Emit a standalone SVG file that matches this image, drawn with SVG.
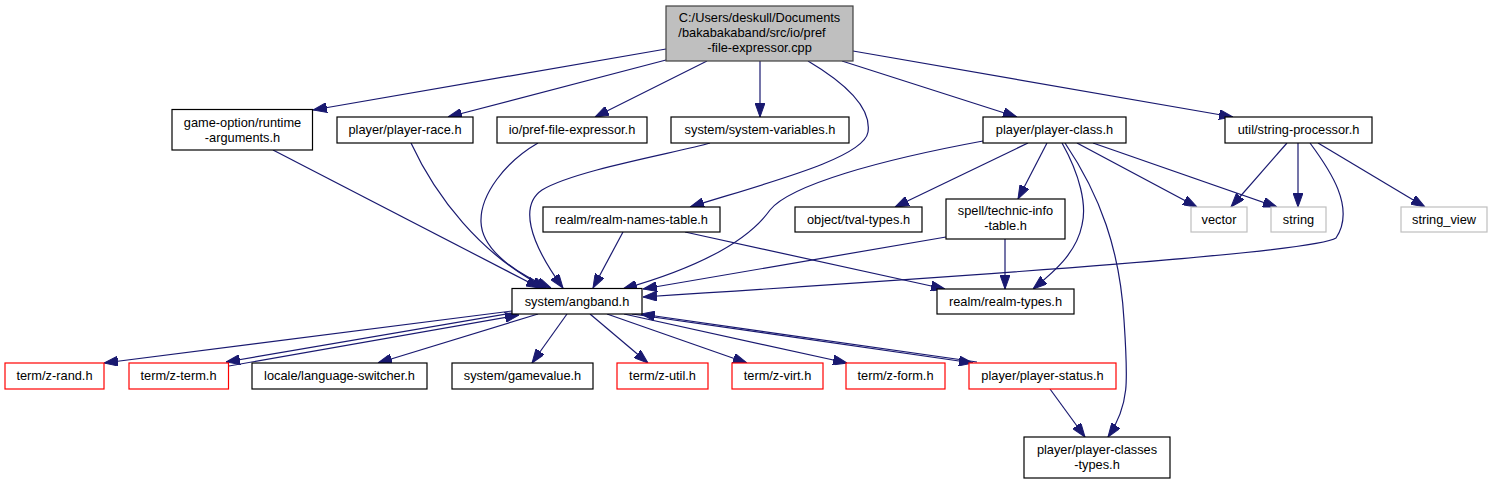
<svg xmlns="http://www.w3.org/2000/svg" width="1492" height="484" viewBox="0 0 1492 484">
<defs>
<marker id="ah" viewBox="0 0 14 10" refX="14" refY="5" markerWidth="14" markerHeight="10" markerUnits="userSpaceOnUse" orient="auto">
<path d="M0,0 L14,5 L0,10 z" fill="#191970" stroke="#191970" stroke-width="1"/>
</marker>
<style>
.n rect{fill:#fff;stroke:#000;stroke-width:1.2}
.root rect{fill:#bfbfbf;stroke:#404040}
.red rect{stroke:#ff0000}
.gray rect{stroke:#bfbfbf}
text{font-family:"Liberation Sans",Arial,sans-serif;font-size:12.8px;fill:#000;text-anchor:middle}
#edges path{fill:none;stroke:#191970;stroke-width:1.2;marker-end:url(#ah)}
</style>
</defs>
<rect width="1492" height="484" fill="#fff"/>
<g id="edges">
<path d="M666,49 L313,110"/>
<path d="M666,60 L448,117"/>
<path d="M707,61 L595,117"/>
<path d="M760,61 L760,117"/>
<path d="M808,61 C840,80 872,105 868,132 C864,158 770,182 690,207"/>
<path d="M842,61 L1017,117"/>
<path d="M853,51 L1233,117"/>
<path d="M273,150 L540,288"/>
<path d="M411,143 C435,195 480,255 546,288"/>
<path d="M538,143 C505,162 480,195 481,222 C482,252 520,275 551,288"/>
<path d="M710,143 C680,152 575,170 542,190 C520,205 528,240 563,288"/>
<path d="M623,232 L593,288"/>
<path d="M983,141 C880,160 790,185 770,210 C745,245 690,270 623,289"/>
<path d="M1028,143 L895,207"/>
<path d="M1047,143 L1018,199"/>
<path d="M1062,143 C1080,175 1087,205 1082,225 C1076,255 1050,275 1033,289"/>
<path d="M1065,143 C1100,195 1120,250 1124,320 C1128,380 1130,405 1108,437"/>
<path d="M1077,143 L1197,207"/>
<path d="M1093,143 L1277,207"/>
<path d="M1287,143 L1231,207"/>
<path d="M1298,143 L1298,207"/>
<path d="M1318,143 L1425,207"/>
<path d="M1310,143 C1330,170 1356,208 1336,238 C1316,252 1000,274 643,297"/>
<path d="M946,237 L643,289"/>
<path d="M1005,239 L1005,289"/>
<path d="M685,232 L945,289"/>
<path d="M512,311 L104,363"/>
<path d="M512,313 L226,362"/>
<path d="M229,366 L519,315"/>
<path d="M538,314 L378,363"/>
<path d="M567,314 L532,363"/>
<path d="M590,314 L648,363"/>
<path d="M607,314 L747,363"/>
<path d="M624,314 L847,363"/>
<path d="M632,314 L973,363"/>
<path d="M977,362 L641,314"/>
<path d="M1050,389 L1085,437"/>
</g>
<g id="root" class="n root"><rect x="666" y="6" width="187" height="55"/><text x="759.5" y="21.5">C:/Users/deskull/Documents</text><text x="752" y="36.5">/bakabakaband/src/io/pref</text><text x="759.5" y="51.5">-file-expressor.cpp</text></g>
<g id="runtime-arguments" class="n"><rect x="172" y="109.5" width="140.5" height="40.5"/><text x="242.5" y="126.5">game-option/runtime</text><text x="242.5" y="141.5">-arguments.h</text></g>
<g id="player-race" class="n"><rect x="337" y="117" width="136" height="26"/><text x="405" y="134">player/player-race.h</text></g>
<g id="pref-file-expressor" class="n"><rect x="497" y="117" width="150" height="26"/><text x="572" y="134">io/pref-file-expressor.h</text></g>
<g id="system-variables" class="n"><rect x="671" y="117" width="178" height="26"/><text x="760" y="134">system/system-variables.h</text></g>
<g id="player-class" class="n"><rect x="983" y="117" width="143" height="26"/><text x="1054.5" y="134">player/player-class.h</text></g>
<g id="string-processor" class="n"><rect x="1225" y="117" width="147" height="26"/><text x="1298.5" y="134">util/string-processor.h</text></g>
<g id="realm-names-table" class="n"><rect x="543" y="207" width="177" height="25"/><text x="631.5" y="223.5">realm/realm-names-table.h</text></g>
<g id="tval-types" class="n"><rect x="795" y="207" width="127" height="25"/><text x="858.5" y="223.5">object/tval-types.h</text></g>
<g id="technic-info-table" class="n"><rect x="946" y="199" width="119" height="40"/><text x="1005.5" y="215">spell/technic-info</text><text x="1005.5" y="230">-table.h</text></g>
<g id="vector" class="n gray"><rect x="1191" y="207" width="56" height="25"/><text x="1219" y="223.5">vector</text></g>
<g id="string" class="n gray"><rect x="1271" y="207" width="55" height="25"/><text x="1298.5" y="223.5">string</text></g>
<g id="string_view" class="n gray"><rect x="1401" y="207" width="86" height="25"/><text x="1444" y="223.5">string_view</text></g>
<g id="angband" class="n"><rect x="512" y="288.5" width="130" height="25.5"/><text x="577" y="305.5">system/angband.h</text></g>
<g id="realm-types" class="n"><rect x="937" y="289" width="137" height="25"/><text x="1005.5" y="305.5">realm/realm-types.h</text></g>
<g id="z-rand" class="n red"><rect x="5" y="363" width="99" height="26"/><text x="54.5" y="380">term/z-rand.h</text></g>
<g id="z-term" class="n red"><rect x="129" y="363" width="99.5" height="26"/><text x="178.5" y="380">term/z-term.h</text></g>
<g id="language-switcher" class="n"><rect x="252" y="363" width="175" height="26"/><text x="339.5" y="380">locale/language-switcher.h</text></g>
<g id="gamevalue" class="n"><rect x="452" y="363" width="141" height="26"/><text x="522.5" y="380">system/gamevalue.h</text></g>
<g id="z-util" class="n red"><rect x="617" y="363" width="91" height="26"/><text x="662.5" y="380">term/z-util.h</text></g>
<g id="z-virt" class="n red"><rect x="732" y="363" width="91" height="26"/><text x="777.5" y="380">term/z-virt.h</text></g>
<g id="z-form" class="n red"><rect x="846" y="363" width="99" height="26"/><text x="895.5" y="380">term/z-form.h</text></g>
<g id="player-status" class="n red"><rect x="969" y="363" width="147" height="26"/><text x="1042.5" y="380">player/player-status.h</text></g>
<g id="player-classes-types" class="n"><rect x="1024" y="437" width="146" height="41"/><text x="1097" y="453.5">player/player-classes</text><text x="1097" y="469">-types.h</text></g>
</svg>
